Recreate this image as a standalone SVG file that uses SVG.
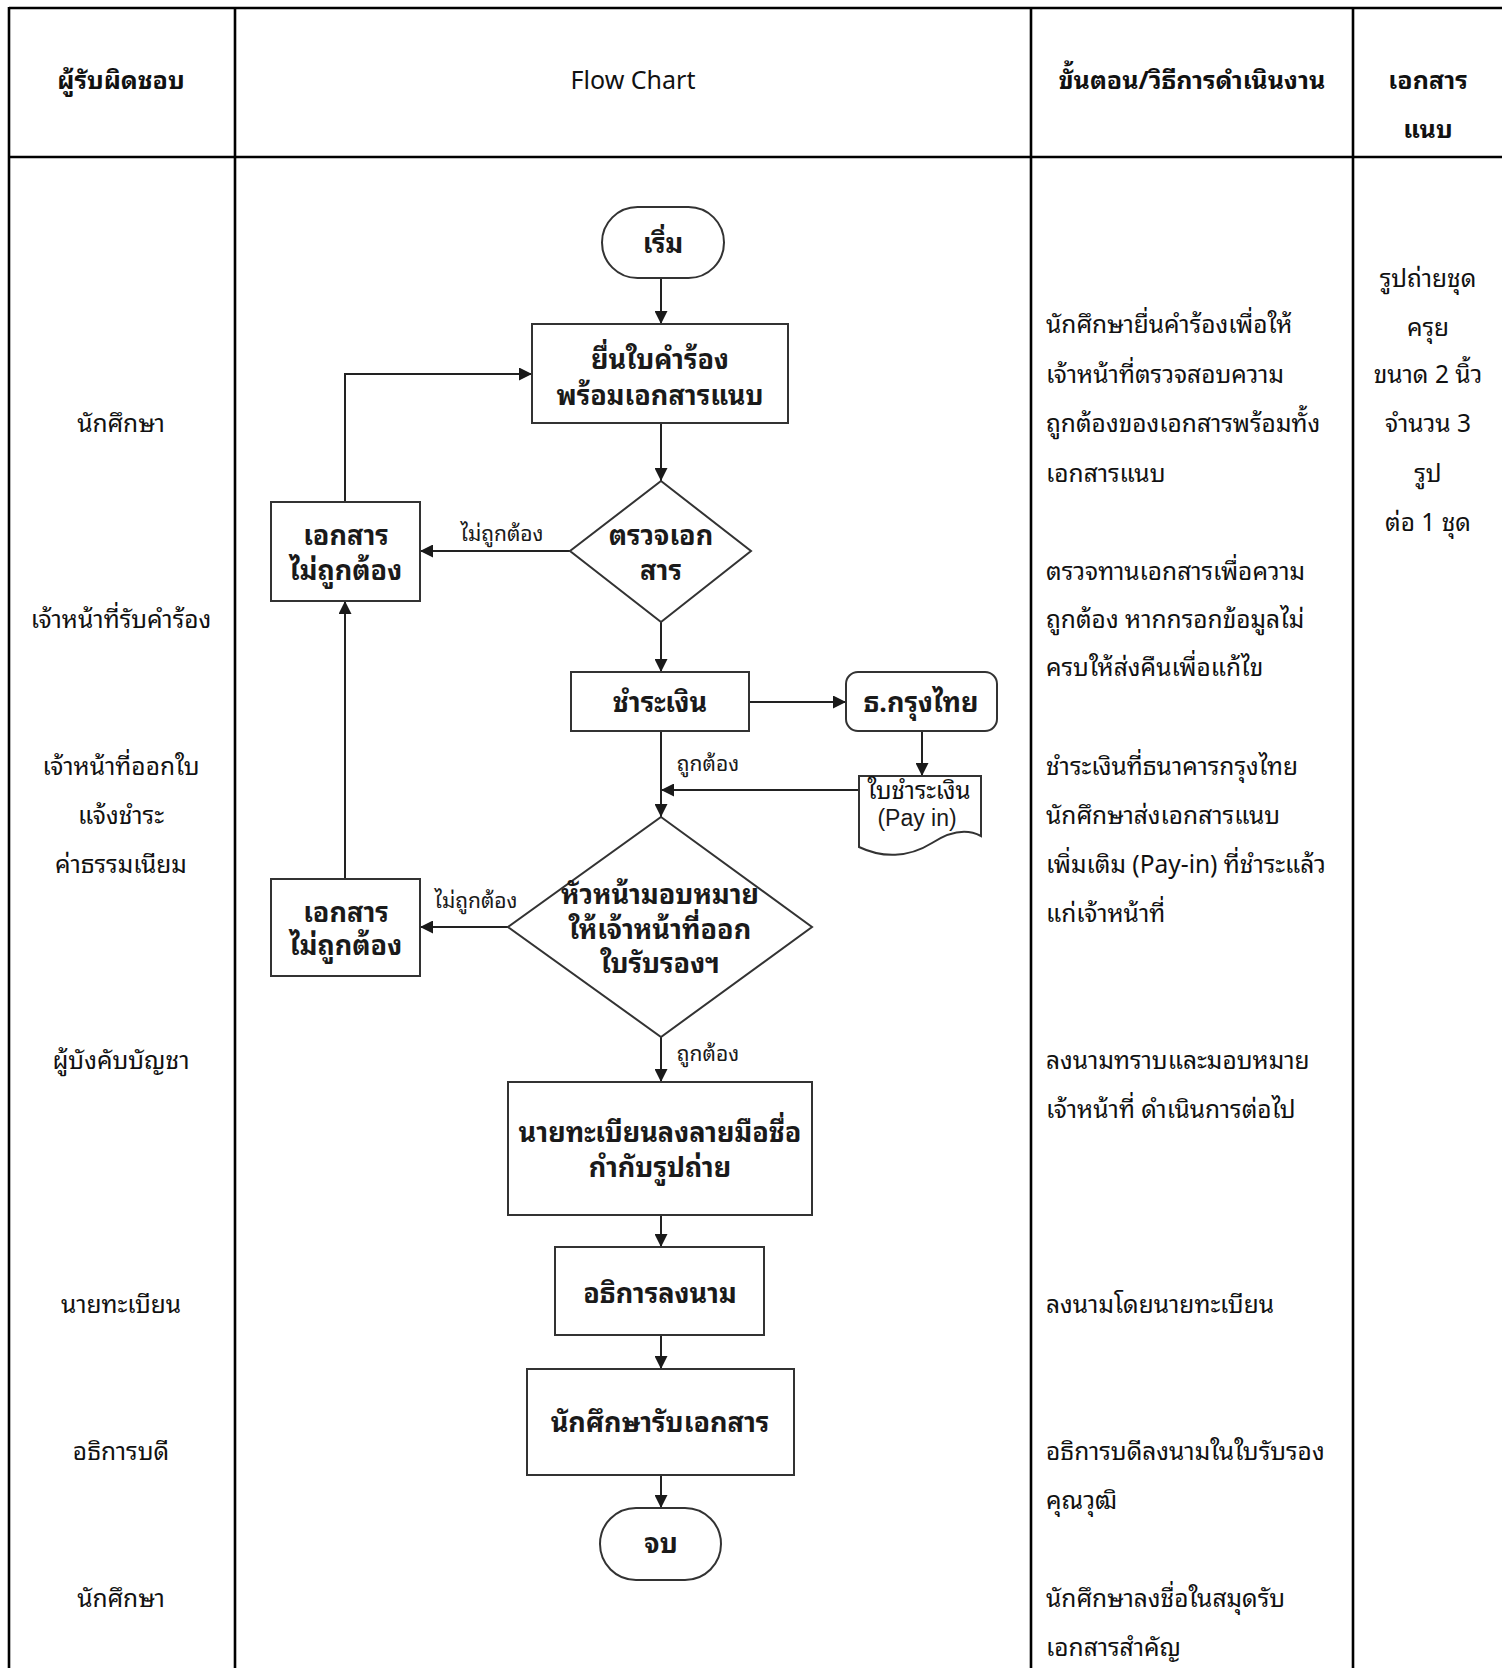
<svg xmlns="http://www.w3.org/2000/svg" width="1502" height="1668" viewBox="0 0 1502 1668">
<defs>
<marker id="arr" viewBox="0 0 10 10" refX="10" refY="5" markerWidth="13" markerHeight="13" markerUnits="userSpaceOnUse" orient="auto">
<path d="M0,0 L10,5 L0,10 z" fill="#1a1a1a"/>
</marker>
<style>
.grid{stroke:#000;stroke-width:2.6;fill:none}
.t{font-family:"Noto Sans Thai Looped","Loma","Garuda","Noto Sans Thai","Leelawadee UI",Tahoma,"Noto Sans","DejaVu Sans",sans-serif;fill:#111}
.h{font-size:25px;font-weight:bold}
.c{font-size:24.5px}
.n{font-family:"Noto Sans Thai Looped","Loma","Garuda","Noto Sans Thai",Tahoma,"Noto Sans","DejaVu Sans",sans-serif;font-size:27px;font-weight:bold;fill:#1a1a1a}
.lb{font-family:"Noto Sans Thai Looped","Loma","Garuda","Noto Sans Thai",Tahoma,"Noto Sans","DejaVu Sans",sans-serif;font-size:21px;fill:#1a1a1a}
.s{fill:#fff;stroke:#333;stroke-width:2}
.e{fill:none;stroke:#222;stroke-width:2}
.m{text-anchor:middle}
</style>
</defs>
<rect width="1502" height="1668" fill="#fff"/>
<g id="table">
<line class="grid" x1="9" y1="8" x2="1502" y2="8"/>
<line class="grid" x1="9" y1="157" x2="1502" y2="157"/>
<line class="grid" x1="9" y1="7" x2="9" y2="1668"/>
<line class="grid" x1="235" y1="7" x2="235" y2="1668"/>
<line class="grid" x1="1031" y1="7" x2="1031" y2="1668"/>
<line class="grid" x1="1353" y1="7" x2="1353" y2="1668"/>
</g>
<g id="header">
<text class="t h m" x="121" y="89">ผู้รับผิดชอบ</text>
<text class="t m" x="633" y="89" font-size="25">Flow Chart</text>
<text class="t h m" x="1192" y="89">ขั้นตอน/วิธีการดำเนินงาน</text>
<text class="t h m" x="1428" y="89">เอกสาร</text>
<text class="t h m" x="1428" y="138">แนบ</text>
</g>
<g id="responsible">
<text class="t c m" x="121" y="432">นักศึกษา</text>
<text class="t c m" x="121" y="628">เจ้าหน้าที่รับคำร้อง</text>
<text class="t c m" x="121" y="775">เจ้าหน้าที่ออกใบ</text>
<text class="t c m" x="121" y="824">แจ้งชำระ</text>
<text class="t c m" x="121" y="873">ค่าธรรมเนียม</text>
<text class="t c m" x="121" y="1069">ผู้บังคับบัญชา</text>
<text class="t c m" x="121" y="1313">นายทะเบียน</text>
<text class="t c m" x="121" y="1460">อธิการบดี</text>
<text class="t c m" x="121" y="1607">นักศึกษา</text>
</g>
<g id="steps">
<text class="t c" x="1046" y="333">นักศึกษายื่นคำร้องเพื่อให้</text>
<text class="t c" x="1046" y="383">เจ้าหน้าที่ตรวจสอบความ</text>
<text class="t c" x="1046" y="432">ถูกต้องของเอกสารพร้อมทั้ง</text>
<text class="t c" x="1046" y="482">เอกสารแนบ</text>
<text class="t c" x="1046" y="580">ตรวจทานเอกสารเพื่อความ</text>
<text class="t c" x="1046" y="628">ถูกต้อง หากกรอกข้อมูลไม่</text>
<text class="t c" x="1046" y="676">ครบให้ส่งคืนเพื่อแก้ไข</text>
<text class="t c" x="1046" y="775">ชำระเงินที่ธนาคารกรุงไทย</text>
<text class="t c" x="1046" y="824">นักศึกษาส่งเอกสารแนบ</text>
<text class="t c" x="1046" y="873">เพิ่มเติม (Pay-in) ที่ชำระแล้ว</text>
<text class="t c" x="1046" y="922">แก่เจ้าหน้าที่</text>
<text class="t c" x="1046" y="1069">ลงนามทราบและมอบหมาย</text>
<text class="t c" x="1046" y="1118">เจ้าหน้าที่ ดำเนินการต่อไป</text>
<text class="t c" x="1046" y="1313">ลงนามโดยนายทะเบียน</text>
<text class="t c" x="1046" y="1460">อธิการบดีลงนามในใบรับรอง</text>
<text class="t c" x="1046" y="1509">คุณวุฒิ</text>
<text class="t c" x="1046" y="1607">นักศึกษาลงชื่อในสมุดรับ</text>
<text class="t c" x="1046" y="1656">เอกสารสำคัญ</text>
</g>
<g id="attachments">
<text class="t c m" x="1428" y="287">รูปถ่ายชุด</text>
<text class="t c m" x="1428" y="336">ครุย</text>
<text class="t c m" x="1428" y="383">ขนาด 2 นิ้ว</text>
<text class="t c m" x="1428" y="432">จำนวน 3</text>
<text class="t c m" x="1428" y="482">รูป</text>
<text class="t c m" x="1428" y="531">ต่อ 1 ชุด</text>
</g>
<g id="connectors">
<line class="e" x1="661" y1="278" x2="661" y2="324" marker-end="url(#arr)"/>
<line class="e" x1="661" y1="423" x2="661" y2="481" marker-end="url(#arr)"/>
<line class="e" x1="570" y1="551" x2="420" y2="551" marker-end="url(#arr)"/>
<polyline class="e" points="345,502 345,374 532,374" marker-end="url(#arr)"/>
<line class="e" x1="661" y1="622" x2="661" y2="672" marker-end="url(#arr)"/>
<line class="e" x1="749" y1="702" x2="846" y2="702" marker-end="url(#arr)"/>
<line class="e" x1="922" y1="731" x2="922" y2="776" marker-end="url(#arr)"/>
<line class="e" x1="859" y1="790" x2="661" y2="790" marker-end="url(#arr)"/>
<line class="e" x1="661" y1="731" x2="661" y2="817" marker-end="url(#arr)"/>
<line class="e" x1="508" y1="927" x2="420" y2="927" marker-end="url(#arr)"/>
<line class="e" x1="345" y1="879" x2="345" y2="601" marker-end="url(#arr)"/>
<line class="e" x1="661" y1="1037" x2="661" y2="1082" marker-end="url(#arr)"/>
<line class="e" x1="661" y1="1215" x2="661" y2="1247" marker-end="url(#arr)"/>
<line class="e" x1="661" y1="1335" x2="661" y2="1369" marker-end="url(#arr)"/>
<line class="e" x1="661" y1="1475" x2="661" y2="1508" marker-end="url(#arr)"/>
<text class="lb m" x="502" y="541">ไม่ถูกต้อง</text>
<text class="lb m" x="476" y="908">ไม่ถูกต้อง</text>
<text class="lb m" x="708" y="771">ถูกต้อง</text>
<text class="lb m" x="708" y="1061">ถูกต้อง</text>
</g>
<g id="start">
<rect class="s" x="602" y="207" width="122" height="71" rx="35.5"/>
<text class="n m" x="663" y="253">เริ่ม</text>
</g>
<g id="submit">
<rect class="s" x="532" y="324" width="256" height="99"/>
<text class="n m" x="660" y="369">ยื่นใบคำร้อง</text>
<text class="n m" x="660" y="405">พร้อมเอกสารแนบ</text>
</g>
<g id="check">
<polygon class="s" points="661,481 751,551 661,622 570,551"/>
<text class="n m" x="661" y="545">ตรวจเอก</text>
<text class="n m" x="661" y="580">สาร</text>
</g>
<g id="invalid1">
<rect class="s" x="271" y="502" width="149" height="99"/>
<text class="n m" x="346" y="545">เอกสาร</text>
<text class="n m" x="346" y="580">ไม่ถูกต้อง</text>
</g>
<g id="pay">
<rect class="s" x="571" y="672" width="178" height="59"/>
<text class="n m" x="660" y="712">ชำระเงิน</text>
</g>
<g id="bank">
<rect class="s" x="846" y="672" width="151" height="59" rx="12"/>
<text class="n m" x="921" y="712">ธ.กรุงไทย</text>
</g>
<g id="payin">
<path class="s" d="M859,776 H981 V836 C968,829 952,830 932,843 C908,858 882,858 859,847 Z"/>
<text class="t m" x="919" y="799" font-size="24" fill="#1a1a1a">ใบชำระเงิน</text>
<text class="m" x="917" y="826" font-size="23" font-family="'Liberation Sans',Arial,sans-serif" fill="#1a1a1a">(Pay in)</text>
</g>
<g id="approve">
<polygon class="s" points="661,817 812,927 661,1037 508,927"/>
<text class="n m" x="660" y="904">หัวหน้ามอบหมาย</text>
<text class="n m" x="660" y="939">ให้เจ้าหน้าที่ออก</text>
<text class="n m" x="660" y="973">ใบรับรองฯ</text>
</g>
<g id="invalid2">
<rect class="s" x="271" y="879" width="149" height="97"/>
<text class="n m" x="346" y="922">เอกสาร</text>
<text class="n m" x="346" y="955">ไม่ถูกต้อง</text>
</g>
<g id="registrar">
<rect class="s" x="508" y="1082" width="304" height="133"/>
<text class="n m" x="660" y="1142">นายทะเบียนลงลายมือชื่อ</text>
<text class="n m" x="660" y="1177">กำกับรูปถ่าย</text>
</g>
<g id="rector">
<rect class="s" x="555" y="1247" width="209" height="88"/>
<text class="n m" x="660" y="1303">อธิการลงนาม</text>
</g>
<g id="receive">
<rect class="s" x="527" y="1369" width="267" height="106"/>
<text class="n m" x="660" y="1432">นักศึกษารับเอกสาร</text>
</g>
<g id="end">
<rect class="s" x="600" y="1508" width="121" height="72" rx="36"/>
<text class="n m" x="661" y="1553">จบ</text>
</g>
</svg>
